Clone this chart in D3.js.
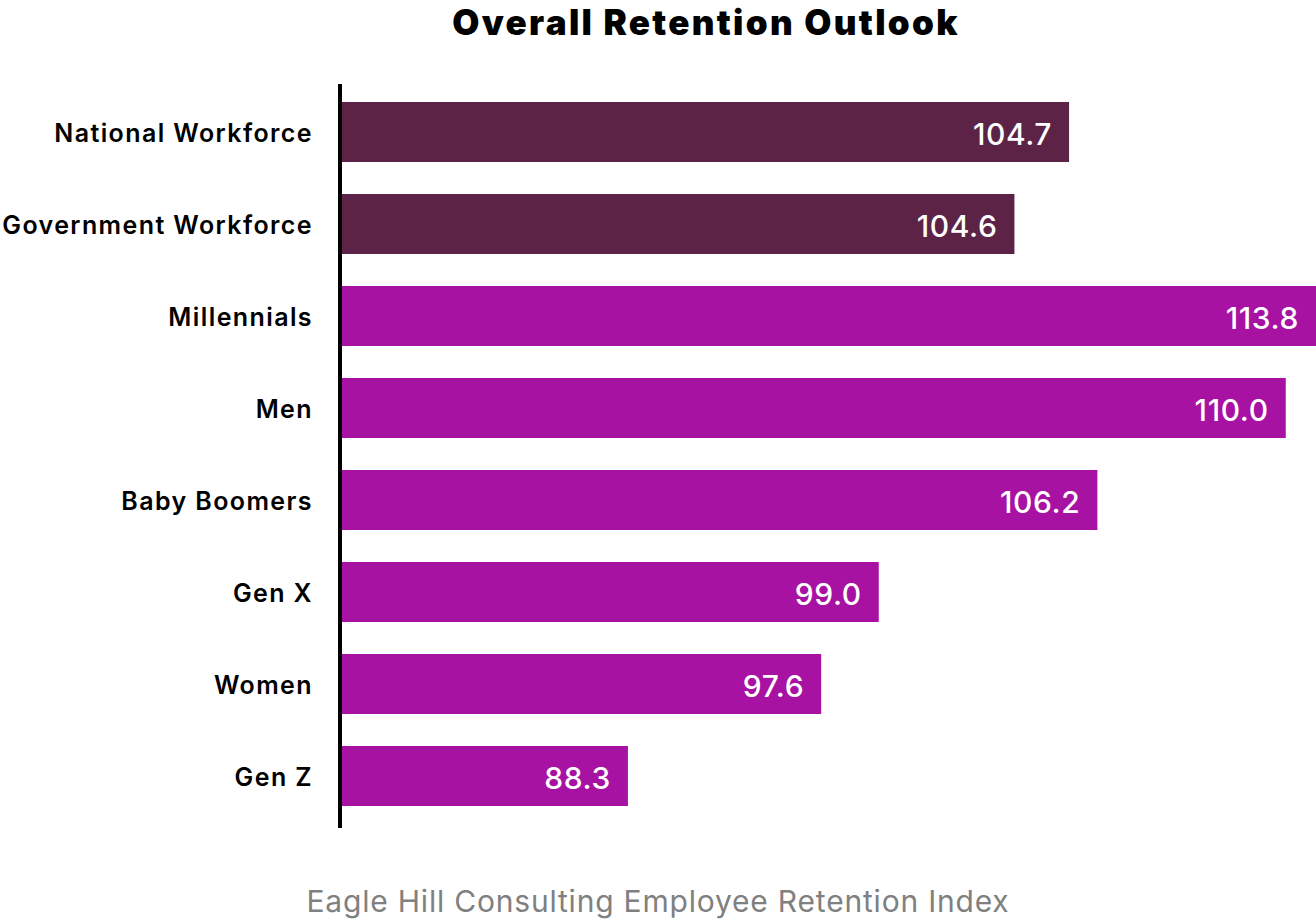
<!DOCTYPE html>
<html>
<head>
<meta charset="utf-8">
<script src="https://cdn.jsdelivr.net/npm/d3@7/dist/d3.min.js"></script>
<style>
  html, body { margin: 0; padding: 0; background: #ffffff; }
  svg { display: block; }
</style>
</head>
<body>
<svg id="chart" width="1316" height="919"></svg>
<script>
// ---- data ----
const categories = ["National Workforce", "Government Workforce", "Millennials", "Men",
                    "Baby Boomers", "Gen X", "Women", "Gen Z"];
const indexValues = [104.7, 104.6, 113.8, 110.0, 106.2, 99.0, 97.6, 88.3];
// bar length as drawn, in % of the plot width (the bars are not proportional to the labels)
const barExtent = [74.7, 69.1, 100, 96.9, 77.6, 55.2, 49.3, 29.5];
const groups = ["overall", "overall", "segment", "segment", "segment", "segment", "segment", "segment"];
const title = "Overall Retention Outlook";
const source = "Eagle Hill Consulting Employee Retention Index";

const W = 1316, H = 919;
const font = "Inter, 'Noto Sans', 'DejaVu Sans', sans-serif";
const svg = d3.select("#chart");

const x = d3.scaleLinear().domain([0, 100]).range([340, 1316]);
const y = d3.scaleBand().domain(categories).range([86, 822])
  .paddingInner(0.3478).paddingOuter(0.1739);
const color = d3.scaleOrdinal().domain(["overall", "segment"]).range(["#5c2346", "#a712a3"]);

const data = categories.map((c, i) => ({ c, v: indexValues[i], e: barExtent[i], g: groups[i] }));

// title
svg.append("text")
  .attr("x", 706).attr("y", 35)
  .attr("text-anchor", "middle")
  .attr("font-family", font).attr("font-weight", 900).attr("font-size", 35)
  .attr("letter-spacing", 2.3)
  .attr("fill", "#000").text(title);

// bars
svg.append("g").selectAll("rect").data(data).join("rect")
  .attr("x", x(0))
  .attr("y", d => y(d.c))
  .attr("width", d => x(d.e) - x(0))
  .attr("height", y.bandwidth())
  .attr("fill", d => color(d.g));

// value labels
svg.append("g").selectAll("text").data(data).join("text")
  .attr("x", d => x(d.e) - 17)
  .attr("y", d => y(d.c) + y.bandwidth() / 2 + 2)
  .attr("dy", "0.35em")
  .attr("text-anchor", "end")
  .attr("font-family", font).attr("font-weight", 500).attr("font-size", 30)
  .attr("letter-spacing", 0.6)
  .attr("fill", "#fff")
  .text(d => d3.format(".1f")(d.v));

// category axis
const axis = svg.append("g").attr("transform", `translate(${x(0)},0)`)
  .call(d3.axisLeft(y).tickSize(0).tickPadding(27));
axis.select(".domain").remove();
axis.selectAll("text")
  .attr("font-family", font).attr("font-weight", 600).attr("font-size", 25)
  .attr("letter-spacing", 1.4)
  .attr("fill", "#000").attr("dy", "0.4em");

// axis line
svg.append("line")
  .attr("x1", x(0)).attr("x2", x(0))
  .attr("y1", 84).attr("y2", 828)
  .attr("stroke", "#000").attr("stroke-width", 4);

// source
svg.append("text")
  .attr("x", 658).attr("y", 912)
  .attr("text-anchor", "middle")
  .attr("font-family", font).attr("font-weight", 400).attr("font-size", 30)
  .attr("letter-spacing", 0.8)
  .attr("fill", "#808080").text(source);
</script>
</body>
</html>
